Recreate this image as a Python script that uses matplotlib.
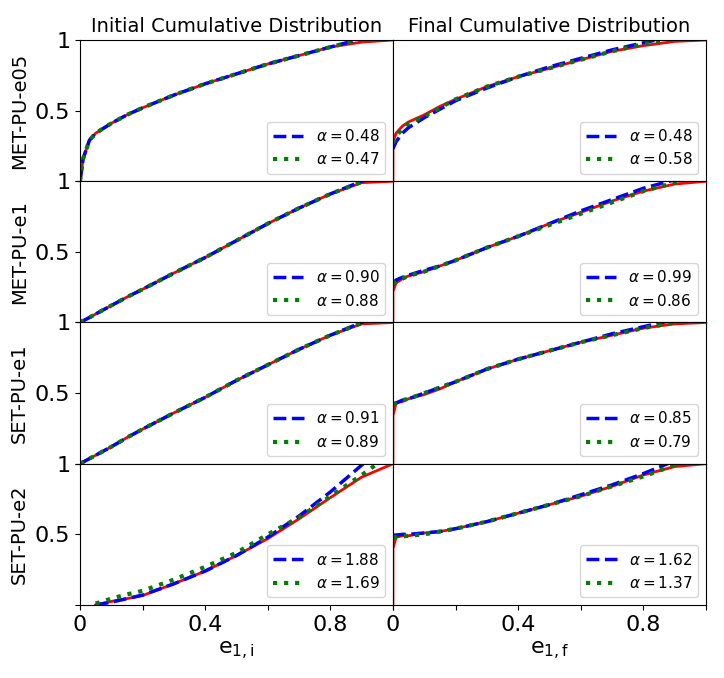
# Initial / final cumulative distributions of e1 for four runs, with two fitted curves each
import numpy as np
import matplotlib
matplotlib.use('Agg')
import matplotlib.pyplot as plt

# common x grid (first point repeated so the jump at x = 0 can be drawn)
x_grid = [0, 0, 0.01, 0.03, 0.05, 0.1, 0.15, 0.2, 0.3, 0.4, 0.5, 0.6, 0.7, 0.8, 0.9, 1.0]
nan = np.nan

row_names = ['MET-PU-e05', 'MET-PU-e1', 'SET-PU-e1', 'SET-PU-e2']
col_titles = ['Initial Cumulative Distribution', 'Final Cumulative Distribution']
x_labels = [r'$\mathrm{e_{1,i}}$', r'$\mathrm{e_{1,f}}$']

# alpha values in the legends (blue dashed, green dotted)
alpha_blue = [[0.48, 0.48], [0.90, 0.99], [0.91, 0.85], [1.88, 1.62]]
alpha_green = [[0.47, 0.58], [0.88, 0.86], [0.89, 0.79], [1.69, 1.37]]

# MET-PU-e05
e05_init_data = [0, 0, 0.16, 0.29, 0.34, 0.41, 0.47, 0.52, 0.61, 0.69, 0.76, 0.83, 0.89, 0.95, 0.985, 1.0]
e05_init_blue = [0, 0, 0.16, 0.29, 0.34, 0.41, 0.47, 0.52, 0.61, 0.69, 0.76, 0.83, 0.89, 0.95, 1.01, 1.06]
e05_init_green = [0, 0, 0.16, 0.29, 0.34, 0.41, 0.47, 0.52, 0.61, 0.69, 0.76, 0.83, 0.89, 0.95, 1.005, 1.055]
e05_fin_data = [0, 0.28, 0.34, 0.39, 0.42, 0.47, 0.53, 0.58, 0.67, 0.74, 0.80, 0.86, 0.92, 0.96, 0.99, 1.0]
e05_fin_blue = [0.23, 0.23, 0.28, 0.34, 0.38, 0.45, 0.51, 0.57, 0.66, 0.74, 0.81, 0.87, 0.93, 0.98, 1.03, 1.08]
e05_fin_green = [0.27, 0.27, 0.32, 0.37, 0.41, 0.46, 0.52, 0.58, 0.67, 0.74, 0.80, 0.86, 0.92, 0.97, 1.01, 1.05]

# MET-PU-e1
met1_init_data = [0, 0, 0.012, 0.035, 0.06, 0.12, 0.18, 0.235, 0.35, 0.46, 0.58, 0.70, 0.81, 0.91, 0.99, 1.0]
met1_init_blue = [0, 0, 0.012, 0.035, 0.06, 0.12, 0.18, 0.235, 0.35, 0.46, 0.58, 0.70, 0.81, 0.91, 1.0, 1.1]
met1_init_green = [0, 0, 0.012, 0.035, 0.06, 0.12, 0.18, 0.235, 0.35, 0.46, 0.58, 0.70, 0.81, 0.91, 0.995, 1.09]
met1_fin_data = [0, 0.22, 0.28, 0.31, 0.33, 0.36, 0.40, 0.44, 0.53, 0.61, 0.70, 0.78, 0.86, 0.93, 0.98, 1.0]
met1_fin_blue = [0.28, 0.28, 0.30, 0.32, 0.335, 0.37, 0.40, 0.44, 0.53, 0.61, 0.70, 0.79, 0.87, 0.95, 1.01, 1.08]
met1_fin_green = [0.27, 0.27, 0.29, 0.31, 0.33, 0.36, 0.40, 0.44, 0.53, 0.61, 0.69, 0.77, 0.85, 0.93, 0.99, 1.05]

# SET-PU-e1
set1_init_data = [0, 0, 0.012, 0.036, 0.06, 0.12, 0.185, 0.245, 0.36, 0.47, 0.59, 0.70, 0.81, 0.91, 0.99, 1.0]
set1_init_blue = [0, 0, 0.012, 0.036, 0.06, 0.12, 0.185, 0.245, 0.36, 0.47, 0.59, 0.70, 0.81, 0.91, 1.0, 1.1]
set1_init_green = [0, 0, 0.012, 0.036, 0.06, 0.12, 0.185, 0.245, 0.36, 0.47, 0.59, 0.70, 0.81, 0.91, 0.995, 1.09]
set1_fin_data = [0, 0.34, 0.43, 0.44, 0.46, 0.49, 0.53, 0.58, 0.67, 0.74, 0.80, 0.86, 0.91, 0.96, 0.99, 1.0]
set1_fin_blue = [0.42, 0.42, 0.43, 0.45, 0.46, 0.50, 0.54, 0.58, 0.67, 0.74, 0.80, 0.86, 0.92, 0.97, 1.02, 1.07]
set1_fin_green = [0.42, 0.42, 0.43, 0.45, 0.46, 0.50, 0.54, 0.58, 0.67, 0.74, 0.80, 0.86, 0.91, 0.96, 1.0, 1.05]

# SET-PU-e2
set2_init_data = [nan, nan, nan, nan, 0.0, 0.025, 0.045, 0.067, 0.15, 0.24, 0.35, 0.47, 0.61, 0.76, 0.905, 1.0]
set2_init_blue = [nan, nan, nan, nan, 0.0, 0.02, 0.045, 0.07, 0.15, 0.24, 0.35, 0.48, 0.63, 0.80, 0.99, 1.2]
set2_init_green = [nan, nan, nan, nan, 0.01, 0.045, 0.075, 0.10, 0.18, 0.27, 0.37, 0.50, 0.62, 0.77, 0.92, 1.08]
set2_fin_data = [0, 0.40, 0.48, 0.49, 0.49, 0.51, 0.52, 0.54, 0.59, 0.65, 0.71, 0.77, 0.84, 0.92, 0.98, 1.0]
set2_fin_blue = [0.495, 0.495, 0.495, 0.50, 0.50, 0.51, 0.52, 0.54, 0.59, 0.65, 0.71, 0.78, 0.85, 0.93, 1.02, 1.1]
set2_fin_green = [0.48, 0.48, 0.48, 0.485, 0.49, 0.50, 0.52, 0.54, 0.59, 0.65, 0.71, 0.77, 0.84, 0.91, 0.99, 1.06]

curves = [
    [(e05_init_data, e05_init_blue, e05_init_green), (e05_fin_data, e05_fin_blue, e05_fin_green)],
    [(met1_init_data, met1_init_blue, met1_init_green), (met1_fin_data, met1_fin_blue, met1_fin_green)],
    [(set1_init_data, set1_init_blue, set1_init_green), (set1_fin_data, set1_fin_blue, set1_fin_green)],
    [(set2_init_data, set2_init_blue, set2_init_green), (set2_fin_data, set2_fin_blue, set2_fin_green)],
]

fig, axes = plt.subplots(4, 2, figsize=(7.24, 6.78), dpi=100, sharex=True, sharey=True)
fig.subplots_adjust(left=0.1105, right=0.975, top=0.941, bottom=0.1077, wspace=0, hspace=0)

for r in range(4):
    for c in range(2):
        ax = axes[r, c]
        data, blue, green = curves[r][c]
        ax.plot(x_grid, data, color='red', lw=2)
        ax.plot(x_grid, blue, color='blue', ls='--', lw=2.5, label=r'$\alpha = %.2f$' % alpha_blue[r][c])
        ax.plot(x_grid, green, color='green', ls=':', lw=3, label=r'$\alpha = %.2f$' % alpha_green[r][c])
        ax.set_xlim(0, 1)
        ax.set_ylim(0, 1)
        ax.legend(loc='lower right', fontsize=11)
        ax.set_xticks([0, 0.2, 0.4, 0.6, 0.8, 1.0])
        ax.set_xticklabels(['0', '', '0.4', '', '0.8', ''])
        ax.tick_params(axis='x', labelsize=16)
        if c == 0:
            ax.set_yticks([0, 0.5, 1])
            ax.set_yticklabels(['', '0.5', '1'])
            ax.tick_params(axis='y', labelsize=16)
            ax.set_ylabel(row_names[r], fontsize=14)
        else:
            ax.tick_params(axis='y', left=False, labelleft=False)
        if r == 0:
            ax.set_title(col_titles[c], fontsize=14)
        if r == 3:
            ax.set_xlabel(x_labels[c], fontsize=16)

plt.savefig('out.png', dpi=100)
